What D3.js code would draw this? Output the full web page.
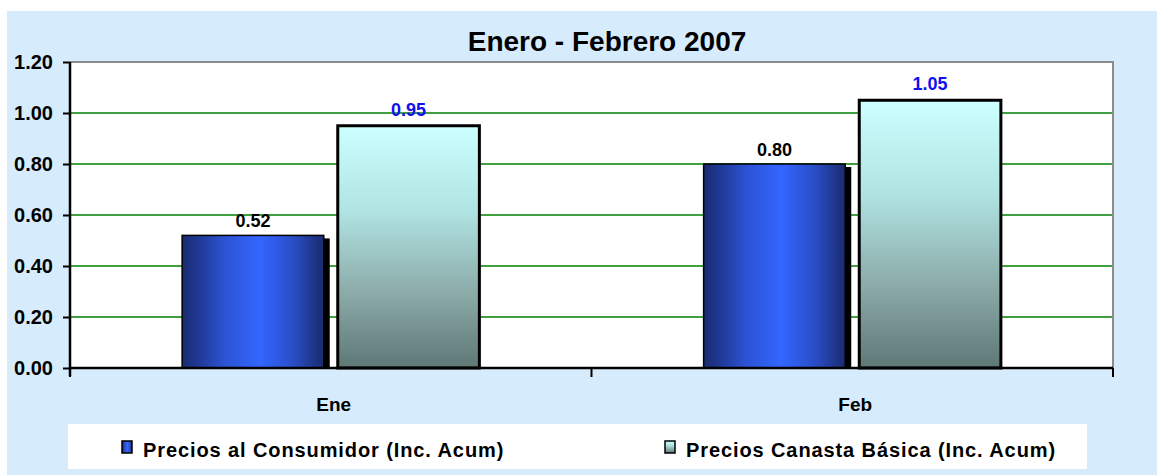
<!DOCTYPE html>
<html>
<head>
<meta charset="utf-8">
<script src="https://cdn.jsdelivr.net/npm/d3@7"></script>
<style>
  body { margin: 0; background: #fff; }
  svg { display: block; font-family: "Liberation Sans", Arial, sans-serif; }
</style>
</head>
<body>
<svg id="chart" width="1157" height="475"></svg>
<script>
// chart data
const categories = ["Ene", "Feb"];
const seriesNames = ["Precios al Consumidor (Inc. Acum)", "Precios Canasta Básica (Inc. Acum)"];
const consumidor = [0.52, 0.80];
const canasta = [0.95, 1.05];
const yTicks = [0, 0.2, 0.4, 0.6, 0.8, 1.0, 1.2];
const title = "Enero - Febrero 2007";

const WIDTH = 1157, HEIGHT = 475;
const PLOT = { left: 70, right: 1113, top: 62, bottom: 368 };
const FONT = "Liberation Sans, Arial, sans-serif";

const svg = d3.select("#chart");

// gradients
const defs = svg.append("defs");
const gBlue = defs.append("linearGradient").attr("id", "gBlue")
  .attr("x1", 0).attr("x2", 1).attr("y1", 0).attr("y2", 0);
[[0, "#192b6e"], [0.12, "#203996"], [0.3, "#2c53d4"], [0.55, "#3366ff"], [0.78, "#2a4ec8"], [1, "#192b6e"]]
  .forEach(([o, c]) => gBlue.append("stop").attr("offset", o).attr("stop-color", c));
const gTeal = defs.append("linearGradient").attr("id", "gTeal")
  .attr("x1", 0).attr("x2", 0).attr("y1", 0).attr("y2", 1);
[[0, "#ccffff"], [0.35, "#b0e4e2"], [0.7, "#8aa9a7"], [1, "#5e7876"]]
  .forEach(([o, c]) => gTeal.append("stop").attr("offset", o).attr("stop-color", c));

// chart background
svg.append("rect").attr("x", 7).attr("y", 11).attr("width", WIDTH - 7).attr("height", HEIGHT - 11)
  .attr("fill", "#d6ecfc");

// plot area
svg.append("rect").attr("x", PLOT.left).attr("y", PLOT.top)
  .attr("width", PLOT.right - PLOT.left).attr("height", PLOT.bottom - PLOT.top)
  .attr("fill", "#fff");

const x0 = d3.scaleBand().domain(categories).range([PLOT.left, PLOT.right]);
const off = x0.bandwidth() * 0.215;
const x1 = d3.scaleBand().domain([0, 1]).range([off, x0.bandwidth() - off]).paddingInner(0.09);
const y = d3.scaleLinear().domain([0, 1.2]).range([PLOT.bottom, PLOT.top]);

// gridlines
svg.append("g").selectAll("line").data(yTicks.filter(d => d > 0 && d < 1.2)).join("line")
  .attr("x1", PLOT.left).attr("x2", PLOT.right)
  .attr("y1", d => y(d)).attr("y2", d => y(d))
  .attr("stroke", "#008000").attr("stroke-width", 1.5);

// top and right border
svg.append("path")
  .attr("d", `M${PLOT.left},${PLOT.top}H${PLOT.right}V${PLOT.bottom}`)
  .attr("fill", "none").attr("stroke", "#8c8c8c").attr("stroke-width", 2);

// bars
const groups = svg.append("g").selectAll("g").data(categories).join("g")
  .attr("transform", d => `translate(${x0(d)},0)`);

groups.each(function (cat, i) {
  const g = d3.select(this);
  const v1 = consumidor[i], v2 = canasta[i];
  // shadow of blue bar
  g.append("rect").attr("x", x1(0) + 6).attr("y", y(v1) + 3)
    .attr("width", x1.bandwidth()).attr("height", y(0) - y(v1) - 3)
    .attr("fill", "#000");
  g.append("rect").attr("x", x1(0)).attr("y", y(v1))
    .attr("width", x1.bandwidth()).attr("height", y(0) - y(v1))
    .attr("fill", "url(#gBlue)").attr("stroke", "#000").attr("stroke-width", 1.5);
  g.append("rect").attr("x", x1(1)).attr("y", y(v2))
    .attr("width", x1.bandwidth()).attr("height", y(0) - y(v2))
    .attr("fill", "url(#gTeal)").attr("stroke", "#000").attr("stroke-width", 3);
  // labels
  g.append("text").attr("x", x1(0) + x1.bandwidth() / 2).attr("y", y(v1) - 8)
    .attr("text-anchor", "middle").attr("font-size", 18).attr("font-weight", "bold")
    .attr("fill", "#000").text(v1.toFixed(2));
  g.append("text").attr("x", x1(1) + x1.bandwidth() / 2).attr("y", y(v2) - 10)
    .attr("text-anchor", "middle").attr("font-size", 18).attr("font-weight", "bold")
    .attr("fill", "#1010f0").text(v2.toFixed(2));
});

// y axis
const yAxis = svg.append("g").attr("transform", `translate(${PLOT.left},0)`)
  .call(d3.axisLeft(y).tickValues(yTicks).tickFormat(d3.format(".2f")).tickSize(7).tickPadding(10));
yAxis.select(".domain").attr("stroke", "#000").attr("stroke-width", 2.5)
  .attr("d", `M0,${PLOT.top}V${PLOT.bottom + 8}`);
yAxis.selectAll(".tick line").attr("stroke", "#000").attr("stroke-width", 2);
yAxis.selectAll("text").attr("font-size", 20).attr("font-weight", "bold").attr("fill", "#000")
  .attr("font-family", FONT);

// x axis
const xAxis = svg.append("g").attr("transform", `translate(0,${PLOT.bottom})`)
  .call(d3.axisBottom(x0).tickSize(0).tickPadding(0));
xAxis.select(".domain").attr("stroke", "#000").attr("stroke-width", 2.5)
  .attr("d", `M${PLOT.left},0H${PLOT.right}`);
xAxis.selectAll(".tick text").attr("dy", null).attr("y", 43).attr("dx", 3)
  .attr("font-size", 19).attr("font-weight", "bold").attr("fill", "#000")
  .attr("font-family", FONT);
xAxis.append("g").selectAll("line").data([...categories.map(c => x0(c)), PLOT.right]).join("line")
  .attr("x1", d => d).attr("x2", d => d).attr("y1", 0).attr("y2", 9)
  .attr("stroke", "#000").attr("stroke-width", 2);

// title
svg.append("text").attr("x", 607).attr("y", 51).attr("text-anchor", "middle")
  .attr("font-size", 28).attr("font-weight", "bold").attr("fill", "#000").text(title);

// legend
const legend = svg.append("g");
legend.append("rect").attr("x", 68).attr("y", 424).attr("width", 1019).attr("height", 45).attr("fill", "#fff");
const legX = [122, 665];
const legFill = ["url(#gBlue)", "url(#gTeal)"];
seriesNames.forEach((name, i) => {
  legend.append("rect").attr("x", legX[i]).attr("y", 441).attr("width", 10).attr("height", 12)
    .attr("fill", legFill[i]).attr("stroke", "#000").attr("stroke-width", 1.5);
  legend.append("text").attr("x", legX[i] + 21).attr("y", 457)
    .attr("font-size", 20).attr("font-weight", "bold").attr("letter-spacing", 0.9)
    .attr("fill", "#000").text(name);
});
</script>
</body>
</html>
